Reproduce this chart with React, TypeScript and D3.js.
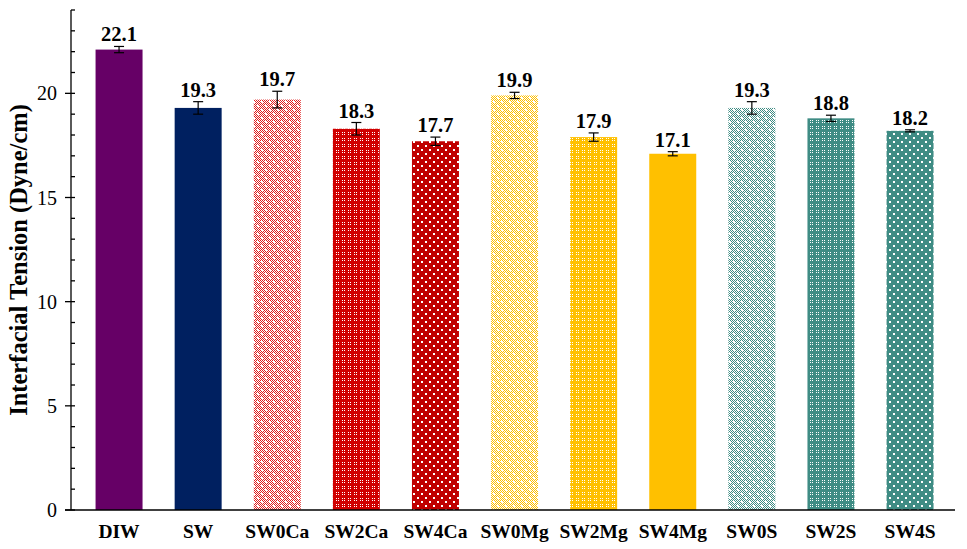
import * as d3 from "d3";
import { useEffect, useRef } from "react";

const categories = ["DIW", "SW", "SW0Ca", "SW2Ca", "SW4Ca", "SW0Mg", "SW2Mg", "SW4Mg", "SW0S", "SW2S", "SW4S"];
const values = [22.1, 19.3, 19.7, 18.3, 17.7, 19.9, 17.9, 17.1, 19.3, 18.8, 18.2];
const errors = [0.15, 0.3, 0.4, 0.3, 0.2, 0.15, 0.2, 0.1, 0.3, 0.15, 0.05];
const yTicks = [0, 5, 10, 15, 20];

const colors = ["#660066", "#002060", "#e02020", "#d00000", "#c00000", "#ffc000", "#ffc000", "#ffc000", "#3f8c84", "#3f8c84", "#3f8c84"];
// fill kind for each bar: solid, light (checker + dots), lattice, dots
const fills = ["solid", "solid", "light", "lattice", "dots", "light", "lattice", "solid", "light", "lattice", "dots"];

const FONT = "Liberation Serif, Times New Roman, serif";

const App = () => {
  const ref = useRef<SVGSVGElement | null>(null);

  useEffect(() => {
    if (!ref.current) return;
    const svg = d3.select(ref.current);
    svg.selectAll("*").remove();

    const width = 967;
    const height = 549;
    const axisX = 71;
    const baseY = 510;

    const x = d3.scaleBand<string>().domain(categories).range([79.5, 949.6]).paddingInner(0.406).paddingOuter(0.203);
    const y = d3.scaleLinear().domain([0, 24]).range([baseY, 10]);

    svg.attr("width", width).attr("height", height);

    const defs = svg.append("defs");
    const patternId = (i: number) => `pat${i}`;
    categories.forEach((_, i) => {
      const c = colors[i];
      const kind = fills[i];
      if (kind === "solid") return;
      const p = defs.append("pattern").attr("id", patternId(i)).attr("patternUnits", "userSpaceOnUse");
      if (kind === "light") {
        p.attr("width", 8).attr("height", 8);
        p.append("rect").attr("width", 8).attr("height", 8).attr("fill", "#fff");
        for (let r = 0; r < 8; r++)
          for (let k = 0; k < 8; k++)
            if ((r + k) % 2 === 0) p.append("rect").attr("x", k).attr("y", r).attr("width", 1).attr("height", 1).attr("fill", c);
        p.append("rect").attr("x", 1).attr("y", 1).attr("width", 2).attr("height", 2).attr("fill", "#fff");
        p.append("rect").attr("x", 5).attr("y", 5).attr("width", 2).attr("height", 2).attr("fill", "#fff");
      } else if (kind === "lattice") {
        p.attr("width", 6).attr("height", 6);
        p.append("rect").attr("width", 6).attr("height", 6).attr("fill", c);
        [[0, 0], [2, 0], [0, 2], [2, 2]].forEach(([px, py]) =>
          p.append("rect").attr("x", px).attr("y", py).attr("width", 1).attr("height", 1).attr("fill", "#fff")
        );
      } else {
        p.attr("width", 8).attr("height", 8);
        p.append("rect").attr("width", 8).attr("height", 8).attr("fill", c);
        p.append("rect").attr("x", 1).attr("y", 1).attr("width", 2).attr("height", 2).attr("fill", "#fff");
        p.append("rect").attr("x", 5).attr("y", 5).attr("width", 2).attr("height", 2).attr("fill", "#fff");
      }
    });

    const g = svg.append("g");

    g.selectAll("rect.bar")
      .data(categories)
      .join("rect")
      .attr("class", "bar")
      .attr("x", (d) => x(d)!)
      .attr("y", (_, i) => y(values[i]))
      .attr("width", x.bandwidth())
      .attr("height", (_, i) => baseY - y(values[i]))
      .attr("fill", (_, i) => (fills[i] === "solid" ? colors[i] : `url(#${patternId(i)})`));

    // error bars
    categories.forEach((d, i) => {
      const cx = x(d)! + x.bandwidth() / 2;
      const t = y(values[i] + errors[i]);
      const b = y(values[i] - errors[i]);
      const eg = g.append("g").attr("stroke", "#000").attr("stroke-width", 1.2);
      eg.append("line").attr("x1", cx).attr("x2", cx).attr("y1", t).attr("y2", b);
      eg.append("line").attr("x1", cx - 5).attr("x2", cx + 5).attr("y1", t).attr("y2", t);
      eg.append("line").attr("x1", cx - 5).attr("x2", cx + 5).attr("y1", b).attr("y2", b);
      g.append("text")
        .attr("x", cx)
        .attr("y", t - 5)
        .attr("text-anchor", "middle")
        .attr("font-family", FONT)
        .attr("font-weight", "bold")
        .attr("font-size", 20.5)
        .text(values[i].toFixed(1));
    });

    // y axis
    const ax = svg.append("g").attr("stroke", "#000").attr("stroke-width", 1.3);
    ax.append("line").attr("x1", axisX).attr("x2", axisX).attr("y1", y(24)).attr("y2", baseY);
    d3.range(0, 25).forEach((v) => {
      const major = v % 5 === 0;
      ax.append("line")
        .attr("x1", major ? axisX - 6 : axisX)
        .attr("x2", axisX + 4)
        .attr("y1", y(v))
        .attr("y2", y(v));
    });
    ax.append("line").attr("x1", axisX - 6).attr("x2", 955).attr("y1", baseY).attr("y2", baseY);

    svg.append("g")
      .selectAll("text")
      .data(yTicks)
      .join("text")
      .attr("x", 57)
      .attr("y", (d) => y(d) + 7)
      .attr("text-anchor", "end")
      .attr("font-family", FONT)
      .attr("font-size", 20)
      .text((d) => d);

    svg.append("g")
      .selectAll("text")
      .data(categories)
      .join("text")
      .attr("x", (d) => x(d)! + x.bandwidth() / 2)
      .attr("y", 538)
      .attr("text-anchor", "middle")
      .attr("font-family", FONT)
      .attr("font-weight", "bold")
      .attr("font-size", 19.5)
      .text((d) => d);

    svg.append("text")
      .attr("transform", `translate(27,${(y(24) + baseY) / 2}) rotate(-90)`)
      .attr("text-anchor", "middle")
      .attr("font-family", FONT)
      .attr("font-weight", "bold")
      .attr("font-size", 24.5)
      .text("Interfacial Tension (Dyne/cm)");
  }, []);

  return <svg ref={ref} style={{ position: "absolute", left: 0, top: 0 }}></svg>;
};

export default App;
